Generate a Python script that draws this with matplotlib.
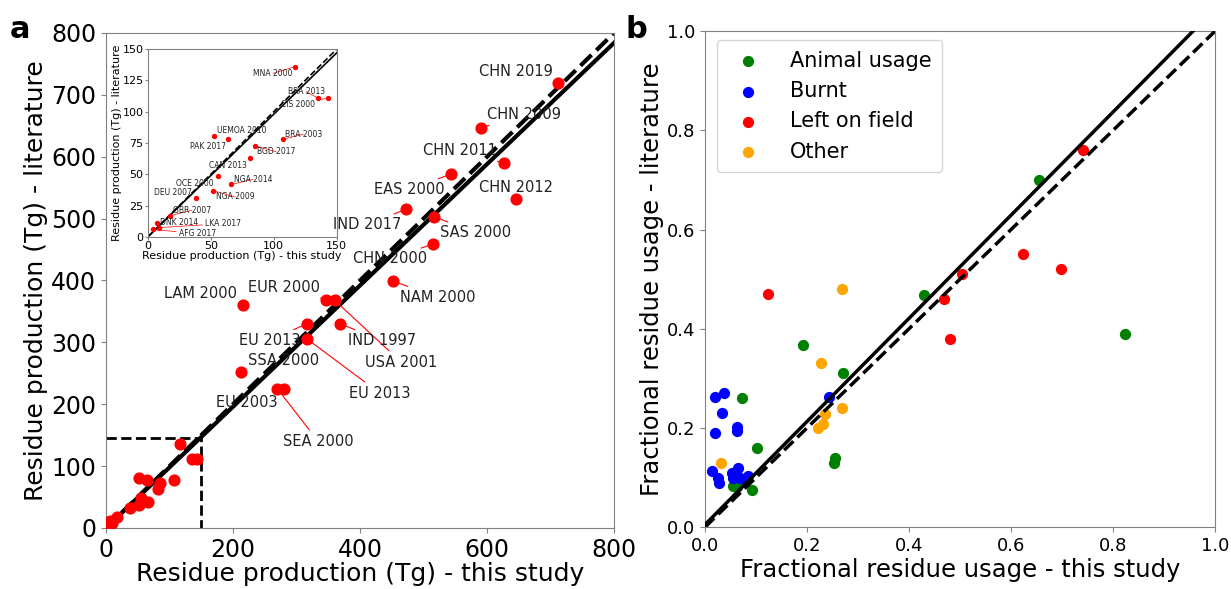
import matplotlib
matplotlib.use("Agg")
import matplotlib.pyplot as plt
import numpy as np

# panel a: residue production (Tg), this study vs literature
names = ["LAM 2000", "EUR 2000", "USA 2001", "EU 2013", "EU 2013", "IND 1997",
         "SSA 2000", "SEA 2000", "EU 2003", "CHN 2019", "CHN 2009", "CHN 2011",
         "EAS 2000", "CHN 2012", "IND 2017", "SAS 2000", "CHN 2000", "NAM 2000"]
big_x = [215, 347, 360, 316, 316, 369, 213, 270, 280, 711, 591, 626, 543, 645, 472, 517, 515, 452]
big_y = [360, 369, 368, 330, 306, 330, 252, 225, 225, 719, 647, 590, 572, 532, 515, 503, 459, 399]
big_tx = [149, 281, 465, 258, 431, 434, 280, 334, 222, 645, 659, 557, 478, 646, 411, 582, 447, 522]
big_ty = [379, 389, 268, 303, 218, 303, 271, 140, 202, 737, 668, 610, 547, 550, 490, 477, 435, 373]

small_names = ["MNA 2000", "BRA 2013", "CIS 2000", "UEMOA 2010", "PAK 2017", "BRA 2003",
               "BGD 2017", "CAN 2013", "NGA 2014", "OCE 2000", "NGA 2009", "DEU 2007",
               "GBR 2007", "DNK 2014", "LKA 2017", "AFG 2017"]
small_x = [117, 135, 143, 52.5, 64, 107, 85, 81.5, 66.5, 55.4, 52, 38, 17.7, 7, 9, 4.5]
small_y = [136, 111, 111, 81, 78, 78, 73, 63, 42, 48.5, 37, 31.5, 17, 11, 7.5, 6]
small_tx = [99.5, 126, 119.5, 74.7, 48, 123.5, 102, 64, 83.6, 37.7, 69.4, 20.3, 35, 25.3, 60, 39.6]
small_ty = [130.7, 116, 106, 85.3, 72, 82, 68, 57, 46, 42.7, 32, 35.5, 21.3, 11.7, 10.7, 2.7]

# panel b: fractional residue usage
animal_x = [0.430, 0.192, 0.271, 0.072, 0.102, 0.254, 0.252, 0.093, 0.055, 0.062, 0.654, 0.824]
animal_y = [0.469, 0.368, 0.310, 0.260, 0.160, 0.140, 0.130, 0.075, 0.083, 0.080, 0.700, 0.390]
burnt_x = [0.244, 0.020, 0.038, 0.034, 0.020, 0.062, 0.062, 0.013, 0.026, 0.028, 0.052,
           0.065, 0.055, 0.068, 0.078, 0.085]
burnt_y = [0.262, 0.262, 0.270, 0.230, 0.190, 0.202, 0.193, 0.113, 0.100, 0.090, 0.110,
           0.120, 0.100, 0.100, 0.097, 0.104]
field_x = [0.742, 0.624, 0.699, 0.503, 0.469, 0.480, 0.124]
field_y = [0.760, 0.550, 0.520, 0.510, 0.460, 0.380, 0.470]
other_x = [0.269, 0.228, 0.269, 0.236, 0.231, 0.221, 0.031]
other_y = [0.480, 0.330, 0.240, 0.228, 0.208, 0.200, 0.130]

fit_a = 0.98
fit_b_slope, fit_b_icpt = 1.04, 0.005

fig = plt.figure(figsize=(12.31, 5.89), dpi=100)
ax = fig.add_axes([0.0861, 0.1036, 0.4127, 0.8404])
axb = fig.add_axes([0.5727, 0.105, 0.4143, 0.842])
axi = fig.add_axes([0.120, 0.5976, 0.1535, 0.319])
# main labels drawn on top of the inset
ax.set_zorder(2)
ax.patch.set_alpha(0)
axi.set_zorder(1)

all_x = big_x + small_x
all_y = big_y + small_y

# ---- panel a
ax.scatter(all_x, all_y, s=60, color="red", zorder=3)
xx = np.array([0, 800])
ax.plot(xx, xx, "k--", lw=3, zorder=2)
ax.plot(xx, fit_a * xx, "k-", lw=3, zorder=2)
ax.plot([0, 150, 150], [145, 145, 0], "k--", lw=2)
for n, x, y, tx, ty in zip(names, big_x, big_y, big_tx, big_ty):
    ax.annotate(n, (x, y), xytext=(tx, ty), ha="center", va="center", fontsize=10.5,
                color="#222222",
                arrowprops=dict(arrowstyle="-", color="red", lw=0.8, shrinkA=1, shrinkB=3))
ax.set_xlim(0, 800)
ax.set_ylim(0, 800)
ax.set_xticks([0, 200, 400, 600, 800])
ax.set_yticks([0, 100, 200, 300, 400, 500, 600, 700, 800])
ax.tick_params(labelsize=17, color="gray")
ax.set_xlabel("Residue production (Tg) - this study", fontsize=18, labelpad=0)
ax.set_ylabel("Residue production (Tg) - literature", fontsize=18, labelpad=2)
for sp in ax.spines.values():
    sp.set_color("gray")

# ---- inset
axi.scatter(all_x, all_y, s=8, color="red", zorder=3)
axi.plot(xx, xx, "k--", lw=1.2)
axi.plot(xx, fit_a * xx, "k-", lw=1.2)
for n, x, y, tx, ty in zip(small_names, small_x, small_y, small_tx, small_ty):
    axi.annotate(n, (x, y), xytext=(tx, ty), ha="center", va="center", fontsize=5.5,
                 color="#222222",
                 arrowprops=dict(arrowstyle="-", color="red", lw=0.5, shrinkA=0, shrinkB=1))
axi.set_xlim(0, 150)
axi.set_ylim(0, 150)
axi.set_xticks([0, 50, 100, 150])
axi.set_yticks([0, 25, 50, 75, 100, 125, 150])
axi.tick_params(labelsize=8, length=2, pad=1, color="gray")
axi.set_xlabel("Residue production (Tg) - this study", fontsize=8, labelpad=0)
axi.set_ylabel("Residue production (Tg) - literature", fontsize=8, labelpad=0)
for sp in axi.spines.values():
    sp.set_color("gray")

# ---- panel b
axb.scatter(animal_x, animal_y, s=50, color="green", label="Animal usage", zorder=3)
axb.scatter(burnt_x, burnt_y, s=50, color="blue", label="Burnt", zorder=3)
axb.scatter(field_x, field_y, s=50, color="red", label="Left on field", zorder=3)
axb.scatter(other_x, other_y, s=50, color="orange", label="Other", zorder=3)
xb = np.array([0, 1])
axb.plot(xb, xb, "k--", lw=2.5, zorder=4)
axb.plot(xb, fit_b_icpt + fit_b_slope * xb, "k-", lw=2.5, zorder=4)
axb.set_xlim(0, 1)
axb.set_ylim(0, 1)
axb.set_xticks([0, 0.2, 0.4, 0.6, 0.8, 1.0])
axb.set_yticks([0, 0.2, 0.4, 0.6, 0.8, 1.0])
axb.tick_params(labelsize=13, color="gray")
axb.set_xlabel("Fractional residue usage - this study", fontsize=17.5, labelpad=2)
axb.set_ylabel("Fractional residue usage - literature", fontsize=17.5, labelpad=2)
for sp in axb.spines.values():
    sp.set_color("gray")
axb.legend(loc="upper left", fontsize=15, scatterpoints=1, handletextpad=1.0,
           borderpad=0.5, labelspacing=0.5, borderaxespad=0,
           bbox_to_anchor=(0.023, 0.982))

fig.text(0.008, 0.935, "a", fontsize=22, fontweight="bold")
fig.text(0.508, 0.935, "b", fontsize=22, fontweight="bold")

fig.savefig("out.png", dpi=100)
